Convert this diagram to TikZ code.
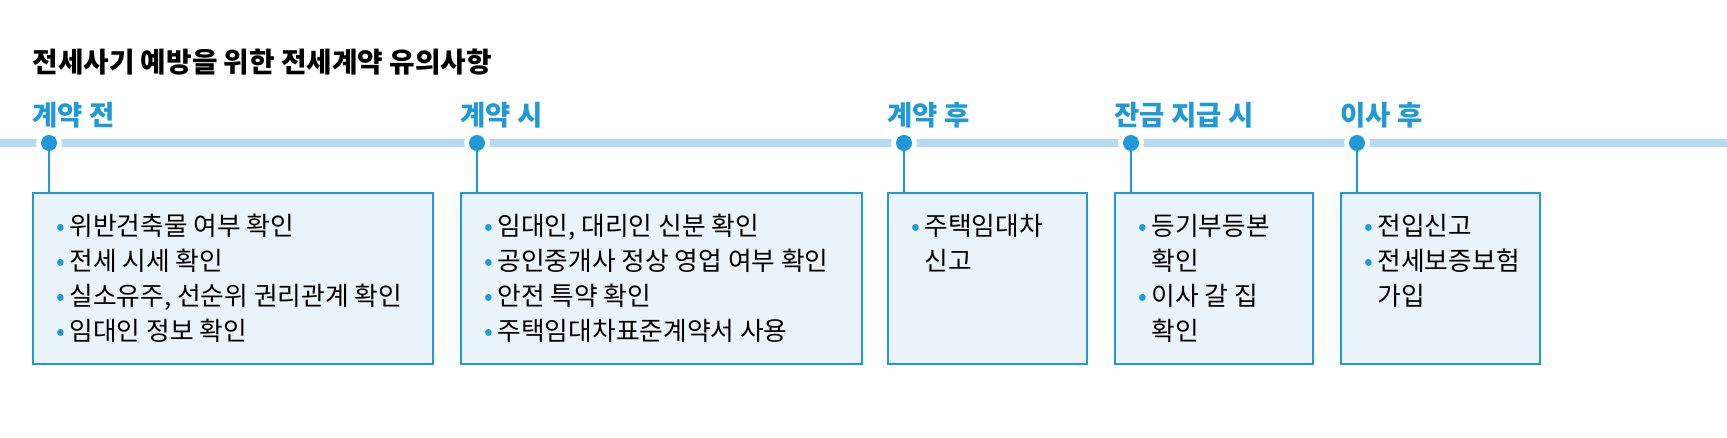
\documentclass[tikz,border=0pt]{standalone}
\usepackage{fontspec}
\setmainfont{Noto Sans CJK KR}
\usetikzlibrary{positioning}
\definecolor{tlblue}{HTML}{1F9AD6}
\definecolor{tlline}{HTML}{B3DCF0}
\definecolor{tlfill}{HTML}{EAF3F9}
\newcommand{\bl}{\textcolor{tlblue}{•}}
\tikzset{
  stage/.style={text=tlblue, font=\fontsize{11}{13}\selectfont\bfseries, anchor=west, inner sep=0},
  stagedot/.style={circle, fill=tlblue, inner sep=0, minimum size=6.4pt},
  infobox/.style={draw=tlblue, line width=0.7pt, fill=tlfill, anchor=north west, inner sep=0},
  items/.style={anchor=north west, font=\fontsize{10.3}{14}\selectfont, inner sep=0}
}
\begin{document}
\begin{tikzpicture}[x=0.4pt, y=-0.4pt]
  \useasboundingbox (0,0) rectangle (1727,438);
  % Titel
  \node[anchor=west, inner sep=0, font=\fontsize{11.1}{13}\selectfont\bfseries] (title) at (32,62) {전세사기 예방을 위한 전세계약 유의사항};

  % Zeitachse
  \draw[tlline, line width=3.2pt] (0,143) -- (1727,143);

  % Stufen
  \foreach \name/\x/\w/\lab in {a/49/400/계약 전, b/477/401/계약 시, c/904/199/계약 후, d/1131/198/잔금 지급 시, e/1357/199/이사 후}{
    \node[stage] (\name h) at (\x-17,115) {\lab};
    \fill[white] (\x,143) circle (5.2pt);
    \node[stagedot] (\name m) at (\x,143) {};
    \node[infobox, minimum width=\w*0.4pt, minimum height=171*0.4pt] (\name box) at (\x-17,192) {};
    \draw[tlblue, line width=0.7pt] (\name m) -- (\name m |- \name box.north);
  }

  % Inhalte
  \node[items] (at) at (56,211) {\begin{tabular}{@{}l@{\,}l@{}}
    \bl & 위반건축물 여부 확인\\ \bl & 전세 시세 확인\\ \bl & 실소유주, 선순위 권리관계 확인\\ \bl & 임대인 정보 확인\end{tabular}};
  \node[items] (bt) at (484,211) {\begin{tabular}{@{}l@{\,}l@{}}
    \bl & 임대인, 대리인 신분 확인\\ \bl & 공인중개사 정상 영업 여부 확인\\ \bl & 안전 특약 확인\\ \bl & 주택임대차표준계약서 사용\end{tabular}};
  \node[items] (ct) at (911,211) {\begin{tabular}{@{}l@{\,}l@{}}
    \bl & 주택임대차\\ & 신고\end{tabular}};
  \node[items] (dt) at (1138,211) {\begin{tabular}{@{}l@{\,}l@{}}
    \bl & 등기부등본\\ & 확인\\ \bl & 이사 갈 집\\ & 확인\end{tabular}};
  \node[items] (et) at (1364,211) {\begin{tabular}{@{}l@{\,}l@{}}
    \bl & 전입신고\\ \bl & 전세보증보험\\ & 가입\end{tabular}};
\end{tikzpicture}
\end{document}
